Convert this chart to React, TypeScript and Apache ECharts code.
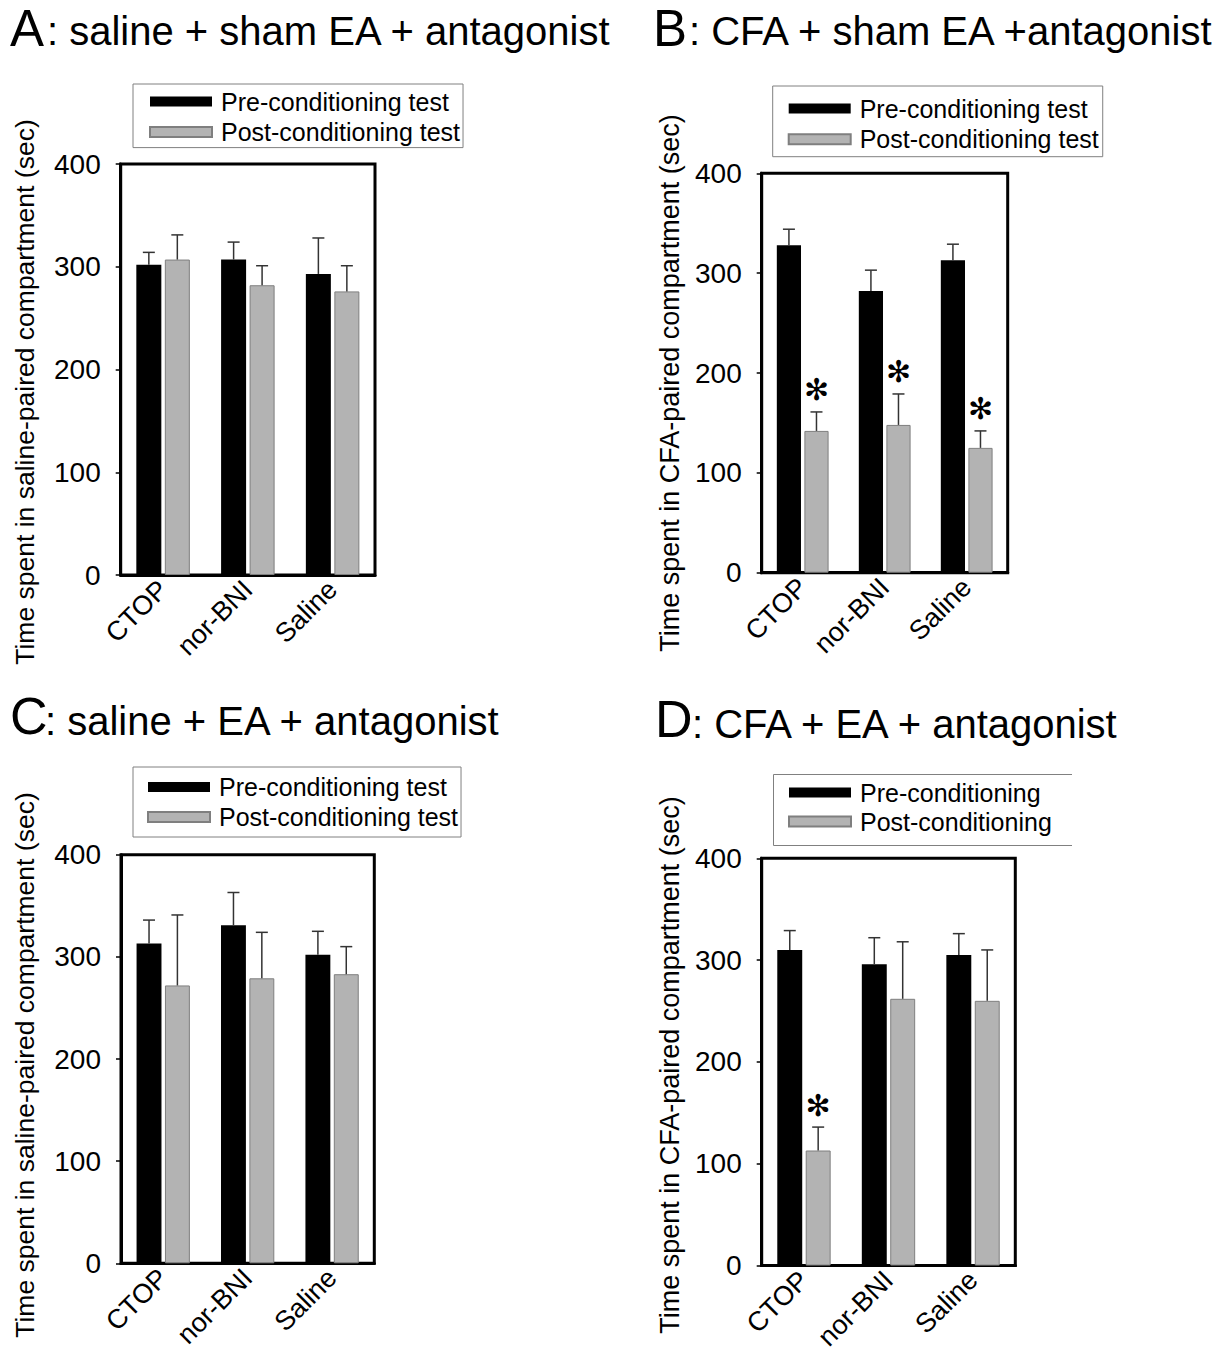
import React, { useEffect, useRef } from "react";
import * as echarts from "echarts";

const categories = ["CTOP", "nor-BNI", "Saline"];

const preA = [302, 307, 293];
const preAErr = [314, 324, 328];
const postA = [307, 282, 276];
const postAErr = [331, 301, 301];

const preB = [328, 282, 313];
const preBErr = [344, 303, 329];
const postB = [142, 148, 125];
const postBErr = [161, 179, 142];

const preC = [313, 331, 302];
const preCErr = [336, 363, 325];
const postC = [272, 279, 283];
const postCErr = [341, 324, 310];

const preD = [310, 296, 305];
const preDErr = [329, 322, 326];
const postD = [113, 262, 260];
const postDErr = [136, 318, 310];

const sigB = [true, true, true];
const sigD = [true, false, false];

const legendNamesLong = ["Pre-conditioning test", "Post-conditioning test"];
const legendNamesShort = ["Pre-conditioning", "Post-conditioning"];

const titleLetters = ["A", "B", "C", "D"];
const titleTexts = [
  ": saline + sham EA + antagonist",
  ": CFA + sham EA +antagonist",
  ": saline + EA + antagonist",
  ": CFA + EA + antagonist",
];
const yNames = [
  "Time spent in saline-paired compartment (sec)",
  "Time spent in CFA-paired compartment (sec)",
  "Time spent in saline-paired compartment (sec)",
  "Time spent in CFA-paired compartment (sec)",
];

const FONT = "'Liberation Sans', Arial, sans-serif";
const OFF = 0.168;
const TITLE_SIZE = 40;

const panels = [
  { pre: preA, preErr: preAErr, post: postA, postErr: postAErr, sig: [false, false, false], names: legendNamesLong,
    grid: { left: 120.7, top: 164, width: 254.3, height: 411 },
    legend: { left: 133, top: 84, padding: [5, 3, 3, 16] as number[], gap: 5.6, border: true },
    title: { x: 10, y: 45, letterY: 46.5, letterSize: 51, restX: 47 }, yName: { x: 25, y: 392, size: 26.5 } },
  { pre: preB, preErr: preBErr, post: postB, postErr: postBErr, sig: sigB, names: legendNamesLong,
    grid: { left: 761.7, top: 173.3, width: 246, height: 399.4 },
    legend: { left: 772.7, top: 86, padding: [10, 4, 5, 15] as number[], gap: 5.7, border: true },
    title: { x: 653, y: 45, letterY: 46.5, letterSize: 51, restX: 689 }, yName: { x: 670, y: 383, size: 27 } },
  { pre: preC, preErr: preCErr, post: postC, postErr: postCErr, sig: [false, false, false], names: legendNamesLong,
    grid: { left: 121, top: 854.7, width: 253.3, height: 408.6 },
    legend: { left: 133, top: 767, padding: [7.5, 3, 7.5, 14] as number[], gap: 5, border: true },
    title: { x: 10, y: 735, letterY: 735, letterSize: 52, restX: 45 }, yName: { x: 25, y: 1065, size: 26.5 } },
  { pre: preD, preErr: preDErr, post: postD, postErr: postDErr, sig: sigD, names: legendNamesShort,
    grid: { left: 761.7, top: 858.3, width: 253.6, height: 407.4 },
    legend: { left: 773, top: 774, padding: [6, 9, 10, 15] as number[], gap: 4, border: false },
    title: { x: 655, y: 738, letterY: 738, letterSize: 52, restX: 692 }, yName: { x: 670, y: 1065, size: 27 } },
];

function errRender(side: number) {
  return (params: any, api: any) => {
    const idx = api.value(0);
    const v = api.value(1);
    const e = api.value(2);
    const band = api.size([1, 0])[0];
    const p0 = api.coord([idx, v]);
    const p1 = api.coord([idx, e]);
    const x = p0[0] + side * band * OFF;
    const style = { stroke: "#333333", lineWidth: 1.5 };
    return {
      type: "group",
      children: [
        { type: "line", shape: { x1: x, y1: p0[1], x2: x, y2: p1[1] }, style },
        { type: "line", shape: { x1: x - 6, y1: p1[1], x2: x + 6, y2: p1[1] }, style },
      ],
    };
  };
}

function starRender(params: any, api: any) {
  const idx = api.value(0);
  const e = api.value(1);
  const band = api.size([1, 0])[0];
  const p = api.coord([idx, e]);
  return {
    type: "text",
    x: p[0] + band * OFF,
    y: p[1] - 22,
    style: {
      text: "✻",
      fontSize: 30,
      fontFamily: "'DejaVu Sans', sans-serif",
      fontWeight: "bold",
      fill: "#000",
      align: "center",
      verticalAlign: "middle",
    },
  };
}

export default function App() {
  const ref = useRef<HTMLDivElement>(null);
  useEffect(() => {
    if (!ref.current) return;
    const chart = echarts.init(ref.current, undefined, { renderer: "svg" });

    const grid: any[] = [];
    const xAxis: any[] = [];
    const yAxis: any[] = [];
    const legend: any[] = [];
    const series: any[] = [];
    const graphic: any[] = [];

    panels.forEach((p, i) => {
      grid.push({ ...p.grid, show: true, borderColor: "#000", borderWidth: 3, containLabel: false });
      xAxis.push({
        type: "category", gridIndex: i, data: categories,
        axisLine: { show: true, lineStyle: { color: "#000", width: 3 } },
        axisTick: { show: false },
        axisLabel: { rotate: 45, fontSize: 27, color: "#000", fontFamily: FONT, margin: 10 },
        splitLine: { show: false },
      });
      yAxis.push({
        type: "value", gridIndex: i, min: 0, max: 400, interval: 100,
        axisLine: { show: true, lineStyle: { color: "#000", width: 3 } },
        axisTick: { show: true, inside: false, length: 5, lineStyle: { color: "#000", width: 1.5 } },
        axisLabel: { fontSize: 28, color: "#000", fontFamily: FONT, margin: 20 },
        splitLine: { show: false },
      });
      legend.push({
        data: p.names, orient: "vertical", left: p.legend.left, top: p.legend.top,
        padding: p.legend.padding, itemWidth: 62, itemHeight: 10, itemGap: p.legend.gap,
        icon: "rect", selectedMode: false,
        borderColor: "#808080", borderWidth: p.legend.border ? 1 : 0,
        textStyle: { fontSize: 25, color: "#000", fontFamily: FONT, padding: [0, 0, 0, 4] },
      });
      series.push({
        type: "bar", name: p.names[0], xAxisIndex: i, yAxisIndex: i, data: p.pre,
        barWidth: "29.5%", barGap: "14%",
        itemStyle: { color: "#000" },
      });
      series.push({
        type: "bar", name: p.names[1], xAxisIndex: i, yAxisIndex: i, data: p.post,
        barWidth: "29.5%", barGap: "14%",
        itemStyle: { color: "#b3b3b3", borderColor: "#7f7f7f", borderWidth: 1 },
      });
      series.push({
        type: "custom", xAxisIndex: i, yAxisIndex: i, renderItem: errRender(-1),
        encode: { x: 0, y: [1, 2] },
        data: p.pre.map((v, k) => [k, v, p.preErr[k]]), silent: true, z: 5,
      });
      series.push({
        type: "custom", xAxisIndex: i, yAxisIndex: i, renderItem: errRender(1),
        encode: { x: 0, y: [1, 2] },
        data: p.post.map((v, k) => [k, v, p.postErr[k]]), silent: true, z: 5,
      });
      const stars = p.sig.map((s, k) => (s ? [k, p.postErr[k]] : null)).filter((d) => d) as number[][];
      if (stars.length) {
        series.push({
          type: "custom", xAxisIndex: i, yAxisIndex: i, renderItem: starRender,
          encode: { x: 0, y: 1 }, data: stars, silent: true, z: 6,
        });
      }
      graphic.push({
        type: "text", x: p.title.x, y: p.title.letterY + p.title.letterSize * 0.14,
        style: { text: titleLetters[i], fontSize: p.title.letterSize, fontFamily: FONT, fill: "#000", verticalAlign: "bottom", align: "left" },
      });
      graphic.push({
        type: "text", x: p.title.restX, y: p.title.y + TITLE_SIZE * 0.14,
        style: { text: titleTexts[i], fontSize: TITLE_SIZE, fontFamily: FONT, fill: "#000", verticalAlign: "bottom", align: "left" },
      });
      graphic.push({
        type: "text", x: p.yName.x, y: p.yName.y, rotation: Math.PI / 2,
        style: { text: yNames[i], fontSize: p.yName.size, fontFamily: FONT, fill: "#000", align: "center", verticalAlign: "middle" },
      });
    });

    graphic.push({
      type: "polyline",
      shape: { points: [[1072, 774.5], [773.5, 774.5], [773.5, 845.5], [1072, 845.5]] },
      style: { stroke: "#808080", lineWidth: 1, fill: "none" },
    });

    chart.setOption({
      animation: false,
      backgroundColor: "#fff",
      grid, xAxis, yAxis, legend, series, graphic,
    });
    return () => chart.dispose();
  }, []);
  return <div ref={ref} style={{ position: "absolute", left: 0, top: 0, width: 1227, height: 1353 }} />;
}
